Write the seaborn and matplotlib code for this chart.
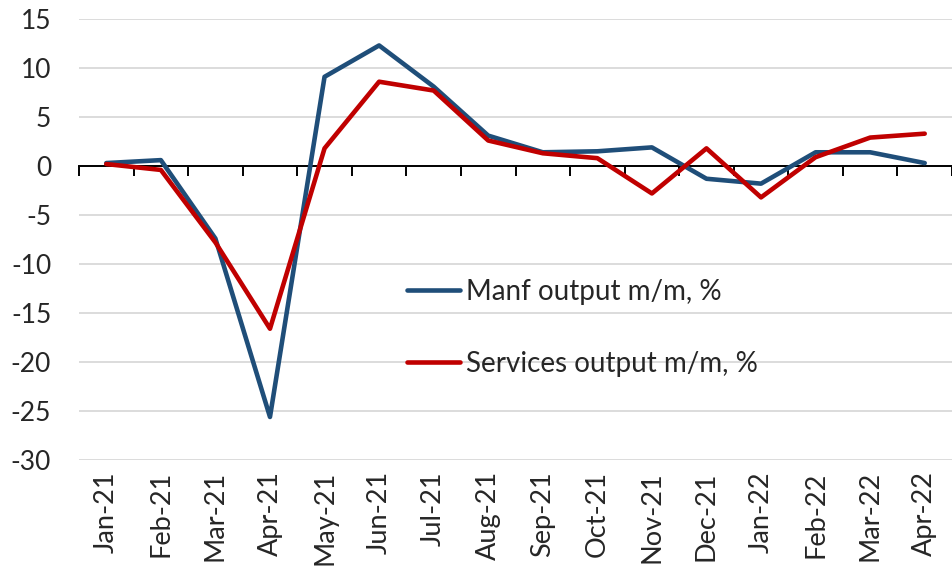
import matplotlib
matplotlib.use("Agg")
import matplotlib.pyplot as plt
import seaborn as sns
import pandas as pd

months = ["Jan-21", "Feb-21", "Mar-21", "Apr-21", "May-21", "Jun-21", "Jul-21", "Aug-21",
          "Sep-21", "Oct-21", "Nov-21", "Dec-21", "Jan-22", "Feb-22", "Mar-22", "Apr-22"]
manf = [0.3, 0.6, -7.4, -25.6, 9.1, 12.3, 8.1, 3.1, 1.4, 1.5, 1.9, -1.3, -1.8, 1.4, 1.4, 0.3]
services = [0.2, -0.4, -7.8, -16.6, 1.8, 8.6, 7.7, 2.6, 1.3, 0.8, -2.8, 1.8, -3.2, 0.9, 2.9, 3.3]
series_names = ["Manf output m/m, %", "Services output m/m, %"]
colors = ["#1F4E79", "#C00000"]
yticks = [15, 10, 5, 0, -5, -10, -15, -20, -25, -30]

df = pd.DataFrame({
    "x": list(range(len(months))) * 2,
    "value": manf + services,
    "series": [series_names[0]] * len(months) + [series_names[1]] * len(months),
})

sns.set_style("white")
plt.rcParams["font.family"] = ["Lato", "DejaVu Sans"]
plt.rcParams["axes.unicode_minus"] = False

fig = plt.figure(figsize=(9.52, 5.68), dpi=100)
ax = fig.add_axes([0.083, 0.190, 0.917, 0.7766])

sns.lineplot(data=df, x="x", y="value", hue="series", palette=colors,
             linewidth=3.3, ax=ax, zorder=3, legend=True)

ax.set_xlim(-0.5, len(months) - 0.5)
ax.set_ylim(-30, 15)
ax.set_yticks(yticks)
ax.set_yticklabels([str(v) for v in yticks], fontsize=19)
ax.tick_params(axis="y", length=0, pad=20)
ax.yaxis.grid(True, color="#d9d9d9", linewidth=1.3)
ax.set_axisbelow(True)

for s in ["top", "right", "left"]:
    ax.spines[s].set_visible(False)
ax.spines["bottom"].set_position(("data", 0))
ax.spines["bottom"].set_color("black")
ax.spines["bottom"].set_linewidth(1.4)
ax.spines["bottom"].set_zorder(2.5)

bounds = [i - 0.5 for i in range(len(months) + 1)]
ax.set_xticks(bounds)
ax.set_xticklabels([""] * len(bounds))
ax.tick_params(axis="x", bottom=True, direction="out", length=7, width=1.4, color="black")
ax.set_xlabel("")
ax.set_ylabel("")

sec = ax.secondary_xaxis("bottom")
sec.set_xticks(list(range(len(months))))
sec.set_xticklabels(months, rotation=90, fontsize=19.5)
sec.tick_params(length=0, pad=8)
sec.spines["bottom"].set_visible(False)

handles, labels = ax.get_legend_handles_labels()
leg = ax.legend(handles, labels, loc="center left", bbox_to_anchor=(0.376, 0.30),
                frameon=False, fontsize=20, handlelength=1.9, handletextpad=0.2,
                labelspacing=1.65, borderpad=0, borderaxespad=0)
for line in leg.get_lines():
    line.set_linewidth(3.3)

fig.savefig("out.png", dpi=100)
